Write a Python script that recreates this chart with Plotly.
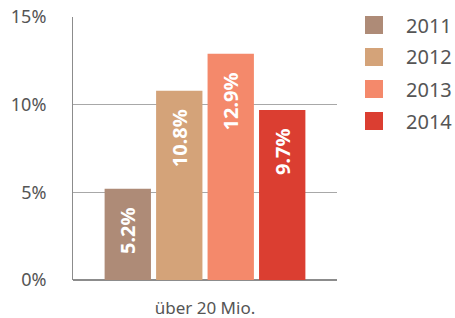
import plotly.graph_objects as go

categories = ["über 20 Mio."]
years = ["2011", "2012", "2013", "2014"]
values = [5.2, 10.8, 12.9, 9.7]
colors = ["#AE8B77", "#D4A379", "#F4896B", "#DB3E31"]
y_ticks = [0, 5, 10, 15]
y_tick_labels = [f"{t}%" for t in y_ticks]

FONT = "Noto Sans"
fig = go.Figure()
for yr, v, c in zip(years, values, colors):
    fig.add_trace(go.Bar(
        x=categories, y=[v], name=yr, marker_color=c, marker_line_width=0,
        texttemplate="%{y:.1f}%\u00a0\u00a0\u00a0", textposition="inside",
        insidetextanchor="end", textangle=-90,
        insidetextfont=dict(family=FONT, size=20, color="white", weight="bold"),
        showlegend=False, hoverinfo="skip",
    ))

# legend drawn manually
for i, (yr, c) in enumerate(zip(years, colors)):
    ytop = 16 + 32 * i
    fig.add_shape(type="rect", xref="paper", yref="paper",
                  x0=(365 - 73) / 264, x1=(383 - 73) / 264,
                  y0=(280 - ytop) / 263, y1=(280 - ytop - 18) / 263,
                  fillcolor=c, line_width=0)
    fig.add_annotation(xref="paper", yref="paper", x=(404 - 73) / 264,
                       y=(280 - ytop - 9) / 263, text=yr, showarrow=False,
                       xanchor="left", yanchor="middle",
                       font=dict(family=FONT, size=20, color="#555555"))

fig.update_layout(
    width=455, height=318,
    margin=dict(l=73, r=118, t=17, b=38, autoexpand=False),
    paper_bgcolor="white", plot_bgcolor="white",
    barmode="group", bargap=0.22, bargroupgap=0.1,
    font=dict(family=FONT, color="#555555", size=18),
)
fig.update_yaxes(range=[0, 15], tickmode="array", tickvals=y_ticks,
                 ticktext=y_tick_labels, automargin=False,
                 showgrid=True, gridcolor="#A8A8A8", gridwidth=1,
                 showline=True, linecolor="#8C8C8C", linewidth=1,
                 zeroline=True, zerolinecolor="#8C8C8C", zerolinewidth=1.5,
                 ticklabelstandoff=22, tickfont=dict(size=18, color="#555555"))
fig.update_xaxes(showline=False, ticks="", ticklabelstandoff=16, automargin=False,
                 tickfont=dict(size=17, color="#555555"))

fig.write_html("out.html", config={"displayModeBar": False},
               post_script="document.body.style.margin='0';")
